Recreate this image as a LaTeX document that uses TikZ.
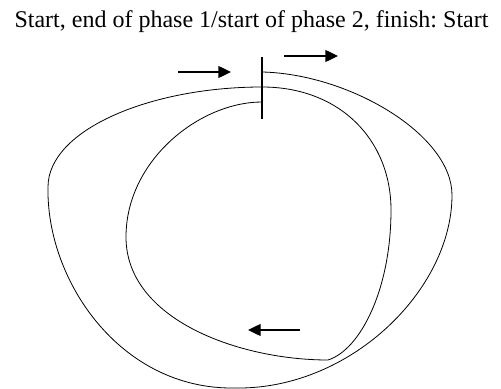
\documentclass[tikz,border=0pt]{standalone}
\usepackage{fontspec}
\setmainfont{Liberation Serif}
\usetikzlibrary{arrows.meta}
\frenchspacing

\begin{document}
\begin{tikzpicture}[x=0.75pt, y=-0.75pt, >={Triangle[length=9.5pt,width=9pt]},
    move/.style={->, line width=1pt},
    track/.style={line width=0.6pt}]
    \useasboundingbox (0,0) rectangle (501,389);
    \node (Title) [anchor=base, inner sep=0pt] at (251.5,27) {\fontsize{18}{22}\selectfont Start, end of phase 1/start of phase 2, finish: Start};

    % start/finish line
    \coordinate (LineTop) at (262,57);
    \coordinate (LineBottom) at (262,119);
    \draw[line width=1.5pt] (LineTop) -- (LineBottom);

    % the two laps
    \coordinate (Go) at (262,72);
    \coordinate (OuterRight) at (452,195);
    \coordinate (OuterBottom) at (235,388);
    \coordinate (OuterLeft) at (48,187);
    \coordinate (Cross) at (262,87);
    \coordinate (InnerRight) at (391,210);
    \coordinate (InnerCorner) at (328,360);
    \coordinate (InnerLeft) at (126,237);
    \coordinate (Finish) at (262,102);
    \draw[track] (Go) .. controls (350,74) and (452,135) .. (OuterRight)
        .. controls (452,290) and (350,390) .. (OuterBottom)
        .. controls (120,390) and (46,280) .. (OuterLeft)
        .. controls (48,130) and (150,87) .. (Cross)
        .. controls (340,87) and (391,140) .. (InnerRight)
        .. controls (391,290) and (360,350) .. (InnerCorner)
        .. controls (240,360) and (126,320) .. (InnerLeft)
        .. controls (126,160) and (200,102) .. (Finish);

    % direction arrows
    \coordinate (InA) at (178,72);
    \coordinate (InB) at (231,72);
    \coordinate (OutA) at (284,56);
    \coordinate (OutB) at (338,56);
    \coordinate (BackA) at (300,330);
    \coordinate (BackB) at (248,330);
    \draw[move] (InA) -- (InB);
    \draw[move] (OutA) -- (OutB);
    \draw[move] (BackA) -- (BackB);
\end{tikzpicture}
\end{document}
